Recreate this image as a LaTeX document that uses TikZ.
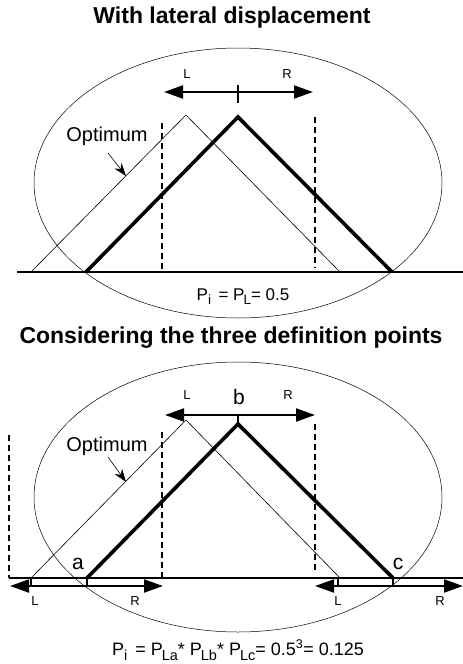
\documentclass[tikz,border=0pt]{standalone}
\usepackage{fontspec}
\setmainfont{Liberation Sans}
\usetikzlibrary{arrows.meta}
\newcommand\sbx[1]{\raisebox{-4.5pt}{\fontsize{13.5}{14}\selectfont #1}}
\newcommand\sbxb[1]{\raisebox{-5pt}{\fontsize{14.5}{15}\selectfont #1}}
\tikzset{
  titletext/.style={font=\fontsize{23}{28}\selectfont\bfseries, inner sep=0pt},
  lrlabel/.style={font=\fontsize{13}{15}\selectfont, inner sep=0pt},
  ptlabel/.style={font=\fontsize{21}{24}\selectfont, inner sep=0pt},
  optlabel/.style={font=\fontsize{20}{24}\selectfont, inner sep=0pt},
  formula/.style={font=\fontsize{17}{20}\selectfont, inner sep=0pt, anchor=base},
  formulab/.style={font=\fontsize{18}{20}\selectfont, inner sep=0pt, anchor=base},
  thinline/.style={line width=0.6pt},
  thickline/.style={line width=3.6pt},
  baseline/.style={line width=2pt},
  dashline/.style={line width=2pt, dash pattern=on 6pt off 4pt},
  dblarrow/.style={line width=2pt, {Triangle[length=19pt,width=13pt]}-{Triangle[length=19pt,width=13pt]}},
  optarrow/.style={line width=0.6pt, -{Stealth[length=13pt,width=9pt]}},
  ellipseline/.style={line width=0.5pt}
}
\begin{document}
\begin{tikzpicture}[x=1pt,y=-1pt]
\useasboundingbox (0,0) rectangle (463,664);
% ---------------- top panel ----------------
\node[titletext] (t1) at (232,18) {With lateral displacement};
\draw[ellipseline] (238,183) ellipse [x radius=204pt, y radius=135pt];
% baseline
\coordinate (b1l) at (17,272);
\coordinate (b1r) at (463,272);
\draw[baseline] (b1l) -- (b1r);
% thin (optimum) triangle
\coordinate (o1l) at (31,272);
\coordinate (o1t) at (186,115);
\coordinate (o1r) at (340,272);
\draw[thinline] (o1l) -- (o1t) -- (o1r);
% thick triangle
\coordinate (k1l) at (86,272);
\coordinate (k1t) at (238,117);
\coordinate (k1r) at (392,272);
\draw[thickline] (k1l) -- (k1t) -- (k1r);
% dashed verticals
\coordinate (d1a) at (162,123); \coordinate (d1b) at (162,272);
\coordinate (d2a) at (315,117); \coordinate (d2b) at (315,268);
\draw[dashline] (d1a) -- (d1b);
\draw[dashline] (d2a) -- (d2b);
% L-R arrow
\coordinate (a1l) at (164,92);
\coordinate (a1r) at (313,92);
\draw[dblarrow] (a1l) -- (a1r);
\coordinate (tk1a) at (238,85); \coordinate (tk1b) at (238,103);
\draw[line width=1.4pt] (tk1a) -- (tk1b);
\node[lrlabel] (l1) at (187,74) {L};
\node[lrlabel] (r1) at (287,74) {R};
% optimum label
\node[optlabel] (opt1) at (107,136) {Optimum};
\coordinate (op1s) at (108,153);
\coordinate (op1t) at (126,176);
\draw[optarrow] (op1s) -- (op1t);
% formula
\node[formula] (f1) at (243,300) {P\sbx{i} \,= P\kern-1pt\sbx{L}= 0.5};
% ---------------- bottom panel ----------------
\node[titletext] (t2) at (231,338) {Considering the three definition points};
\draw[ellipseline] (238,497) ellipse [x radius=204pt, y radius=135pt];
\coordinate (b2l) at (9,578);
\coordinate (b2r) at (463,578);
\draw[baseline] (b2l) -- (b2r);
% thin triangle
\coordinate (o2l) at (31,578);
\coordinate (o2t) at (186,420);
\coordinate (o2r) at (340,578);
\draw[thinline] (o2l) -- (o2t) -- (o2r);
% thick triangle
\coordinate (k2l) at (87,578);
\coordinate (k2t) at (238,424);
\coordinate (k2r) at (393,578);
\draw[thickline] (k2l) -- (k2t) -- (k2r);
% dashed verticals
\coordinate (e0a) at (9,435); \coordinate (e0b) at (9,578);
\coordinate (e1a) at (162,432); \coordinate (e1b) at (162,578);
\coordinate (e2a) at (315,424); \coordinate (e2b) at (315,572);
\draw[dashline] (e0a) -- (e0b);
\draw[dashline] (e1a) -- (e1b);
\draw[dashline] (e2a) -- (e2b);
% b arrow
\coordinate (a2l) at (165,415);
\coordinate (a2r) at (315,415);
\draw[dblarrow] (a2l) -- (a2r);
\coordinate (tk2a) at (238,415); \coordinate (tk2b) at (238,422);
\draw[line width=1.4pt] (tk2a) -- (tk2b);
\node[lrlabel] (l2) at (187,395) {L};
\node[lrlabel] (r2) at (288,395) {R};
\node[ptlabel] (pb) at (239,397) {b};
% a arrow
\coordinate (a3l) at (10,586);
\coordinate (a3r) at (163,586);
\draw[dblarrow] (a3l) -- (a3r);
\coordinate (tk3a) at (31,578); \coordinate (tk3b) at (31,586);
\coordinate (tk4a) at (87,578); \coordinate (tk4b) at (87,586);
\draw[line width=1.4pt] (tk3a) -- (tk3b);
\draw[line width=1.4pt] (tk4a) -- (tk4b);
\node[lrlabel] (l3) at (35,601) {L};
\node[lrlabel] (r3) at (135,601) {R};
\node[ptlabel] (pa) at (78,564) {a};
% c arrow
\coordinate (a4l) at (315,586);
\coordinate (a4r) at (463,586);
\draw[dblarrow] (a4l) -- (a4r);
\coordinate (tk5a) at (338,578); \coordinate (tk5b) at (338,586);
\coordinate (tk6a) at (393,578); \coordinate (tk6b) at (393,586);
\draw[line width=1.4pt] (tk5a) -- (tk5b);
\draw[line width=1.4pt] (tk6a) -- (tk6b);
\node[lrlabel] (l4) at (338,601) {L};
\node[lrlabel] (r4) at (440,601) {R};
\node[ptlabel] (pc) at (398,564) {c};
% optimum
\node[optlabel] (opt2) at (107,446) {Optimum};
\coordinate (op2s) at (108,457);
\coordinate (op2t) at (126,482);
\draw[optarrow] (op2s) -- (op2t);
% formula
\node[formulab] (f2) at (238,655) {P\sbxb{i} \,= P\kern-1pt\sbxb{La}* P\kern-1pt\sbxb{Lb}* P\kern-1pt\sbxb{Lc}= 0.5\textsuperscript{3}= 0.125};
\end{tikzpicture}
\end{document}
